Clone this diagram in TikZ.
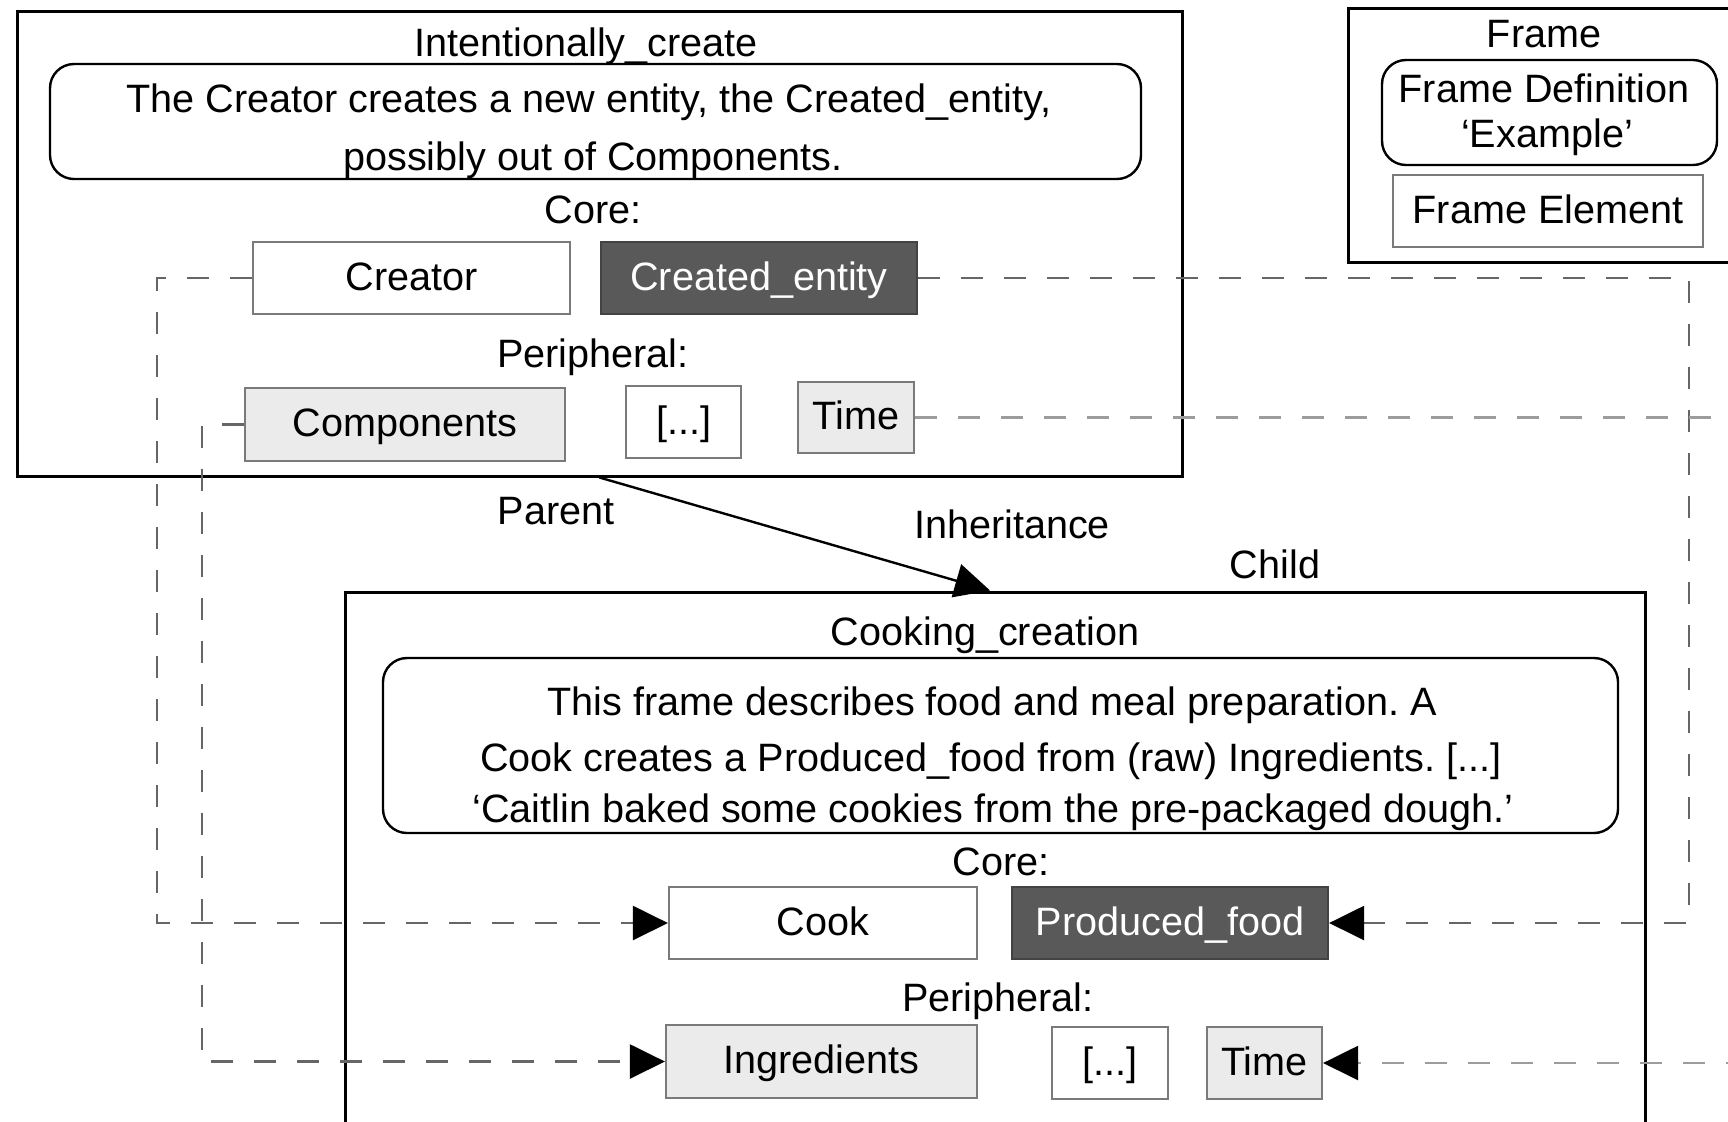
\documentclass[tikz,border=0pt]{standalone}
\usepackage{fontspec}
\setmainfont{Liberation Sans}
\usetikzlibrary{arrows.meta,fit}
\definecolor{darkfe}{HTML}{595959}
\definecolor{lightfe}{HTML}{EBEBEB}
\definecolor{fegray}{HTML}{7A7A7A}
\definecolor{dashgray}{HTML}{666666}
\definecolor{timegray}{HTML}{9C9C9C}
\frenchspacing
\begin{document}
\begin{tikzpicture}[x=0.5pt,y=-0.5pt,
  font=\fontsize{19.8pt}{24pt}\selectfont,
  frame/.style={draw=black,line width=1.5pt,inner sep=0pt},
  defbox/.style={draw=black,line width=1.2pt,rounded corners=12pt,inner sep=0pt},
  fe/.style={draw=fegray,line width=1.1pt,inner sep=0pt,text height=16pt,text depth=4pt,minimum height=36pt},
  corefe/.style={fe,fill=white},
  darkbox/.style={fe,fill=darkfe,draw=darkfe!75!black,text=white},
  periph/.style={fe,fill=lightfe},
  txt/.style={inner sep=0pt,text height=16pt,text depth=4pt},
  dline/.style={draw=dashgray,line width=1.2pt,dash pattern=on 11pt off 10.5pt},
  tline/.style={dline,draw=timegray},
  tip/.style={-{Triangle[length=17.5pt,width=17pt,color=black]}},
  inh/.style={draw=black,line width=1.2pt,-{Triangle[length=17.5pt,width=17pt,color=black]}}
]
\useasboundingbox (0,0) rectangle (1728,1121);

% frames
\node[frame, fit={(17,11)(1182,476)}] (f1) {};
\node[frame, fit={(1348,8)(1790,262)}] (legend) {};
\node[frame, fit={(345,592)(1645,1160)}] (f2) {};

% definition boxes
\node[defbox, fit={(50,64)(1141,179)}] (def1) {};
\node[defbox, fit={(383,658)(1618,833)}] (def2) {};
\node[defbox, fit={(1382,60)(1717,165)}] (ldef) {};

% top frame texts
\node[txt] (t1title) at (586,44) {Intentionally\_create};
\node[txt] (t1d1) at (589,100) {The Creator creates a new entity, the Created\_entity,};
\node[txt] (t1d2) at (593,158) {possibly out of Components.};
\node[txt] (t1core) at (593,211) {Core:};
\node[txt] (t1per) at (593,355) {Peripheral:};

% top frame elements
\node[corefe, minimum width=158.5pt] (creator) at (411.5,278) {Creator};
\node[darkbox, minimum width=158pt] (created) at (759,278) {Created\_entity};
\node[periph, minimum width=160pt, minimum height=36.5pt] (components) at (405,424.5) {Components};
\node[corefe, minimum width=57.5pt] (dots1) at (683.5,422) {[...]};
\node[periph, minimum width=58pt, minimum height=35.5pt] (time1) at (856,417.5) {Time};

% legend
\node[txt] (lframe) at (1544,35) {Frame};
\node[txt] (ldef1) at (1544,90) {Frame Definition};
\node[txt] (ldef2) at (1547,135) {‘Example’};
\node[corefe, minimum width=155pt] (lfe) at (1548,211) {Frame Element};

% relation labels
\node[txt] (parent) at (556,512) {Parent};
\node[txt] (inhlab) at (1012,526) {Inheritance};
\node[txt] (child) at (1275,566) {Child};

% bottom frame texts
\node[txt] (t2title) at (985,633) {Cooking\_creation};
\node[txt] (t2d1) at (992,703) {This frame describes food and meal preparation. A};
\node[txt] (t2d2) at (991,759) {Cook creates a Produced\_food from (raw) Ingredients. [...]};
\node[txt] (t2d3) at (993,810) {‘Caitlin baked some cookies from the pre-packaged dough.’};
\node[txt] (t2core) at (1001,863) {Core:};
\node[txt] (t2per) at (998,999) {Peripheral:};

% bottom frame elements
\node[corefe, minimum width=154pt] (cook) at (823,923) {Cook};
\node[darkbox, minimum width=158pt] (produced) at (1170,923) {Produced\_food};
\node[periph, minimum width=155.5pt, minimum height=36.5pt] (ingredients) at (821.5,1061.5) {Ingredients};
\node[corefe, minimum width=58pt] (dots2) at (1110,1063) {[...]};
\node[periph, minimum width=57.5pt] (time2) at (1264.5,1063) {Time};

% inheritance
\draw[inh] (f1.south) -- ([xshift=-2.5pt]f2.north);

% frame element mappings
\draw[dline,tip] (creator.west) -- ++(-95,0) |- (cook.west);
\draw[dline,tip] (components.west) -- ++(-42,0) |- (ingredients.west);
\draw[dline,tip] (created.east) -- ++(771,0) |- (produced.east);
\draw[tline,tip] (time1.east) -- ++(846,0) |- (time2.east);
\end{tikzpicture}
\end{document}
